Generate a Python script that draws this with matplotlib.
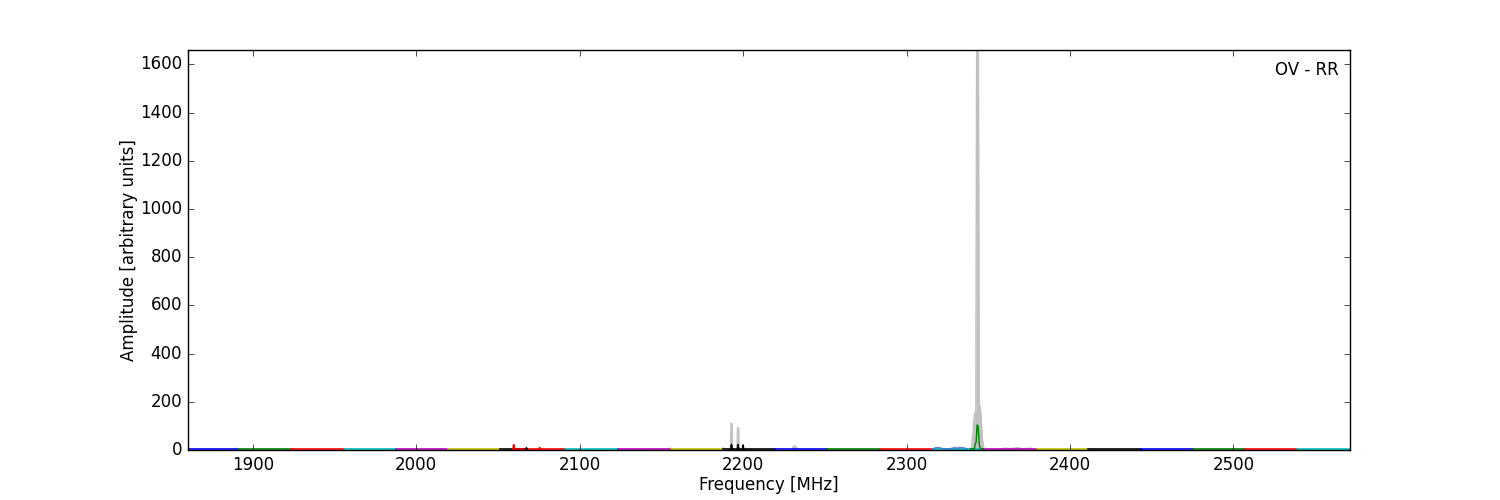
import matplotlib
matplotlib.use("Agg")
import matplotlib.pyplot as plt

plt.style.use('classic')
plt.rcParams['font.family'] = ['DejaVu Sans']

# sub-band baselines (MHz) and their colours
seg_lo = [1860.0, 1890.6, 1923.1, 1955.5, 1987.4, 2019.2, 2051.0, 2059.0, 2090.8, 2123.3, 2155.7, 2187.6,
          2219.4, 2251.3, 2283.7, 2315.5, 2346.8, 2379.8, 2411.1, 2443.5, 2475.3, 2507.1, 2539.0]
seg_hi = [1890.6, 1923.1, 1955.5, 1987.4, 2019.2, 2051.0, 2068.0, 2090.8, 2123.3, 2155.7, 2187.6, 2219.4,
          2251.3, 2283.7, 2315.5, 2346.8, 2379.8, 2411.1, 2443.5, 2475.3, 2507.1, 2539.0, 2571.4]
seg_col = ['b', 'g', 'r', 'c', 'm', 'y', 'k', 'r', 'c', 'm', 'y', 'k',
           'b', 'g', 'r', 'c', 'm', 'y', 'k', 'b', 'g', 'r', 'c']
base_level = 5

# raw (grey) spectrum
gray_f = [1860, 1888.5, 1889.5, 1890.5, 1919.5, 1920.5, 1921.5, 2014.5, 2015.5, 2016.5,
          2074.5, 2075.5, 2076.5, 2154.5, 2155.5, 2156.5, 2187.0, 2187.8, 2188.6,
          2192.2, 2192.6, 2193.2, 2193.6, 2196.2, 2196.6, 2197.2, 2197.6,
          2229.5, 2231.0, 2232.0, 2233.5, 2316.0, 2318.0, 2321.0, 2323.0, 2328.0, 2331.0, 2334.0, 2337.0,
          2339.5, 2340.5, 2341.5, 2342.4, 2342.9, 2344.0, 2344.5, 2345.5, 2346.5, 2347.5,
          2356.0, 2360.0, 2364.0, 2368.0, 2371.0, 2376.0, 2378.0, 2571.4]
gray_a = [0, 0, 8, 0, 0, 7, 0, 0, 7, 0,
          0, 10, 0, 0, 9, 0, 0, 10, 0,
          0, 110, 110, 0, 0, 92, 92, 0,
          0, 16, 16, 0, 0, 10, 8, 0, 8, 12, 10, 0,
          0, 60, 150, 160, 1660, 1660, 200, 150, 40, 0,
          0, 8, 6, 10, 5, 8, 0, 0]

# individual spikes drawn on top of the baselines
spk_f = [[2192.5, 2192.9, 2193.3], [2196.5, 2196.9, 2197.3], [2199.7, 2200.0, 2200.3],
         [2059.2, 2059.6, 2060.0], [2075.1, 2075.5, 2075.9], [2067.0, 2067.4, 2067.8]]
spk_a = [[5, 22, 5], [5, 22, 5], [5, 20, 5],
         [5, 22, 5], [5, 10, 5], [5, 9, 5]]
spk_c = ['k', 'k', 'k', 'r', 'r', 'k']

# blue bits near 2320-2337 MHz
blue_f = [2315.5, 2316.5, 2318.0, 2320.5, 2322.0, 2327.0, 2329.0, 2331.0, 2333.0, 2335.0, 2337.0]
blue_a = [5, 5, 10, 9, 5, 5, 9, 7, 10, 9, 5]

# green line with the RFI peak
green_f = [2339.0, 2341.6, 2342.0, 2342.6, 2343.2, 2343.8, 2344.6, 2345.3, 2347.0]
green_a = [5, 5, 25, 32, 104, 100, 20, 5, 5]

fig = plt.figure(figsize=(15, 5), dpi=100, facecolor='white')
ax = fig.add_subplot(111)

ax.fill_between(gray_f, 0, gray_a, color='silver', linewidth=0)
ax.plot(gray_f, gray_a, color='silver', linewidth=1.0)

for lo, hi, c in zip(seg_lo, seg_hi, seg_col):
    ax.plot([lo, hi], [base_level, base_level], color=c, linewidth=1.2)

ax.plot(blue_f, blue_a, color='royalblue', linewidth=1.0, alpha=0.8)

for f, a, c in zip(spk_f, spk_a, spk_c):
    ax.plot(f, a, color=c, linewidth=1.2)

ax.plot(green_f, green_a, color='g', linewidth=1.0)

ax.set_xlim(1860, 2571.4)
ax.set_ylim(0, 1660)
ax.set_xticks([1900, 2000, 2100, 2200, 2300, 2400, 2500])
ax.set_yticks([0, 200, 400, 600, 800, 1000, 1200, 1400, 1600])
ax.set_xlabel("Frequency [MHz]", labelpad=1.5)
ax.set_ylabel("Amplitude [arbitrary units]", labelpad=1.5)
ax.text(0.99, 0.972, "OV - RR", transform=ax.transAxes, ha='right', va='top', fontsize=12)

fig.subplots_adjust(left=0.125, right=0.9, bottom=0.1, top=0.9)
fig.savefig("out.png", dpi=100, facecolor='white')
